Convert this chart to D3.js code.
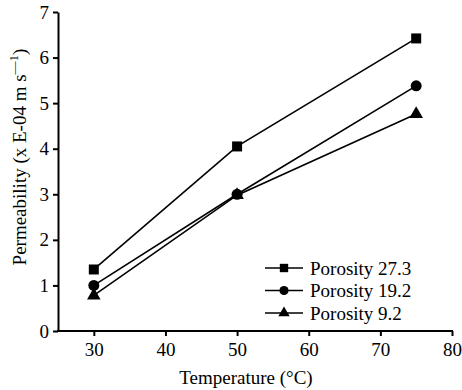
<!DOCTYPE html>
<html>
<head>
<meta charset="utf-8">
<script src="https://cdn.jsdelivr.net/npm/d3@7"></script>
<style>
  body { margin: 0; background: #fff; }
</style>
</head>
<body>
<svg id="chart" width="462" height="390"></svg>
<script>
const temperatures = [30, 50, 75];
const seriesNames = ["Porosity 27.3", "Porosity 19.2", "Porosity 9.2"];
const porosity273 = [1.35, 4.05, 6.42];
const porosity192 = [1.0, 3.0, 5.38];
const porosity92 = [0.78, 2.98, 4.76];
const xTicks = [30, 40, 50, 60, 70, 80];
const yTicks = [0, 1, 2, 3, 4, 5, 6, 7];

const series = [
  { name: seriesNames[0], values: porosity273, symbol: d3.symbolSquare, size: 100 },
  { name: seriesNames[1], values: porosity192, symbol: d3.symbolCircle, size: 95 },
  { name: seriesNames[2], values: porosity92, symbol: d3.symbolTriangle, size: 80 },
];

const serif = "'Liberation Serif', 'DejaVu Serif', serif";
const svg = d3.select("#chart");
const margin = { top: 12, right: 10, bottom: 59, left: 58 };
const width = 462, height = 390;

const x = d3.scaleLinear().domain([25, 80]).range([margin.left, width - margin.right]);
const y = d3.scaleLinear().domain([0, 7]).range([height - margin.bottom, margin.top]);

// axes
const gx = svg.append("g").attr("transform", `translate(0,${y(0)})`)
  .call(d3.axisBottom(x).tickValues(xTicks).tickFormat(d3.format("d")).tickSize(5).tickSizeOuter(0).tickPadding(7));
const gy = svg.append("g").attr("transform", `translate(${x(25)},0)`)
  .call(d3.axisLeft(y).tickValues(yTicks).tickFormat(d3.format("d")).tickSize(5).tickSizeOuter(0).tickPadding(4));

[gx, gy].forEach(g => {
  g.attr("font-family", serif).attr("font-size", 19);
  g.selectAll("path,line").attr("stroke", "#000").attr("stroke-width", 2);
  g.selectAll("text").attr("fill", "#000");
});
gx.select("path.domain").attr("d", `M${x(25) - 1},0H${x(80) + 1}`);

svg.append("text")
  .attr("x", 246)
  .attr("y", 384)
  .attr("text-anchor", "middle")
  .attr("font-family", serif)
  .attr("font-size", 19)
  .text("Temperature (°C)");

// y title, centred where the reference puts it (a bit below the axis middle)
const yt = svg.append("text")
  .attr("transform", "translate(26,157) rotate(-90)")
  .attr("text-anchor", "middle")
  .attr("font-family", serif)
  .attr("font-size", 19);
yt.append("tspan").text("Permeability (x E-04 m s");
yt.append("tspan").attr("dy", -8).attr("font-size", 13).text("\u2014" + "1");
yt.append("tspan").attr("dy", 8).text(")");

// lines + markers
const line = d3.line().x((d, i) => x(temperatures[i])).y(d => y(d));

series.forEach(s => {
  svg.append("path")
    .attr("d", line(s.values))
    .attr("fill", "none")
    .attr("stroke", "#000")
    .attr("stroke-width", 1.6);
  svg.selectAll(null)
    .data(s.values)
    .join("path")
    .attr("transform", (d, i) => `translate(${x(temperatures[i])},${y(d)})`)
    .attr("d", d3.symbol(s.symbol, s.size))
    .attr("fill", "#000");
});

// legend
const legend = svg.append("g").attr("transform", "translate(265,268)");
series.forEach((s, i) => {
  const g = legend.append("g").attr("transform", `translate(0,${i * 22.5})`);
  g.append("line").attr("x1", 0).attr("x2", 38).attr("stroke", "#000").attr("stroke-width", 1.6);
  g.append("path").attr("transform", "translate(19,0)").attr("d", d3.symbol(s.symbol, s.size * 0.7)).attr("fill", "#000");
  g.append("text").attr("x", 45).attr("dy", "0.35em").attr("font-family", serif).attr("font-size", 19).text(s.name);
});
</script>
</body>
</html>
